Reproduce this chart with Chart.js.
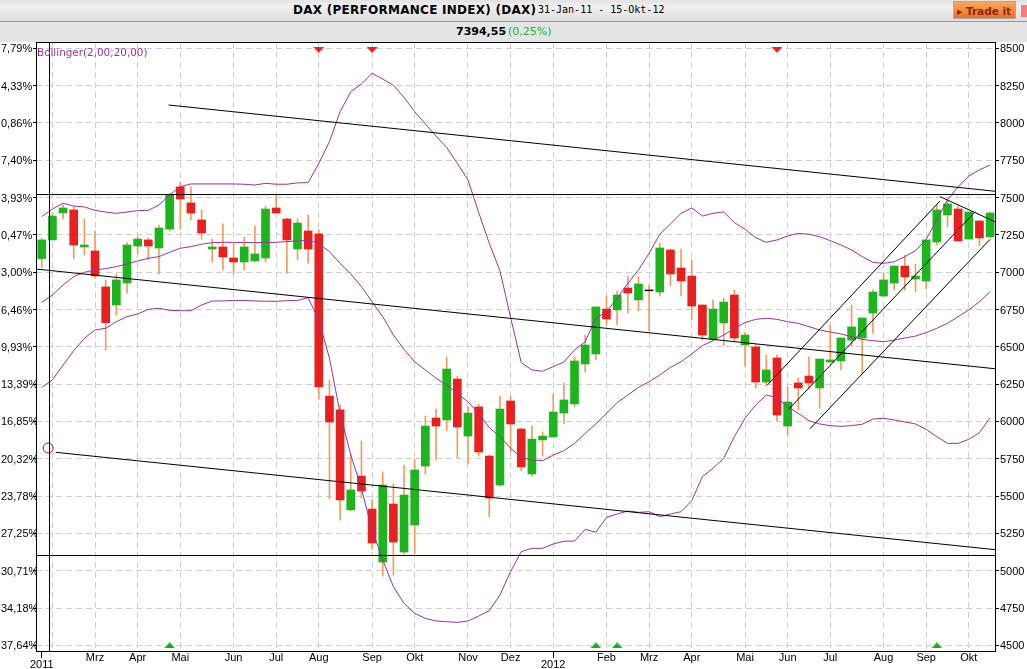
<!DOCTYPE html>
<html>
<head>
<meta charset="utf-8">
<title>DAX</title>
<script src="https://cdn.jsdelivr.net/npm/chart.js@4"></script>
<style>
    html, body { margin: 0; padding: 0; background: #fff; overflow: hidden; }
    #page { position: relative; width: 1027px; height: 669px; overflow: hidden; }
    #titleBar { position: absolute; left: 0; top: 0; width: 1027px; height: 21px; background: linear-gradient(#e2e2e2, #f0f0f0 30%, #dedede); border-bottom: 1px solid #999; }
    #quoteBar { position: absolute; left: 0; top: 22px; width: 1027px; height: 20px; background: #e4e4e4; }
    #title { position: absolute; left: 293px; top: 3px; font: bold 12px "DejaVu Sans"; letter-spacing: .27px; white-space: nowrap; }
    #range { position: absolute; left: 538px; top: 4px; font: 10px "DejaVu Sans Mono"; white-space: nowrap; }
    #last { position: absolute; left: 456px; top: 25px; font: bold 11px "DejaVu Sans"; white-space: nowrap; }
    #change { position: absolute; left: 508px; top: 25px; font: 11px "DejaVu Sans"; color: #22b422; white-space: nowrap; }
    #trade { position: absolute; left: 953px; top: 1px; width: 63px; height: 18px; border: 1px solid #aaa; background: linear-gradient(#f9a860, #ee6f22); color: #8a2a08; font: bold 10.5px "DejaVu Sans"; line-height: 18px; box-sizing: border-box; padding-left: 3px; white-space: nowrap; }
    #closeBox { position: absolute; left: 1021px; top: 5px; width: 6px; height: 12px; background: #f08080; }
    #bollinger { position: absolute; left: 37px; top: 46px; font: 10.4px "DejaVu Sans"; color: #993399; white-space: nowrap; z-index: 3; }
    #chart { position: absolute; left: 0; top: 0; z-index: 2; }
</style>
</head>
<body>
<div id="page">
    <div id="titleBar"></div>
    <div id="quoteBar"></div>
    <div id="title">DAX (PERFORMANCE INDEX) (DAX)</div>
    <div id="range">31-Jan-11 - 15-Okt-12</div>
    <div id="last">7394,55</div>
    <div id="change">(0,25%)</div>
    <div id="trade">▸ Trade it</div>
    <div id="closeBox"></div>
    <canvas id="chart" width="1027" height="669"></canvas>
    <div id="bollinger">Bollinger(2,00;20,00)</div>
</div>
<script>
// weekly candles, 31-Jan-11 to 15-Okt-12
const opens = [
    7091,7216,7397,7417,7169,7142,6901,6780,6927,7175,
    7216,7162,7289,7571,7464,7350,7155,7169,7095,7068,
    7075,7095,7430,7356,7155,7276,7256,6170,6077,5407,
    5634,5413,5058,5447,5125,5306,5701,6023,6010,6284,
    5902,6097,5768,5574,6137,5949,5648,5876,5896,6056,
    6117,6385,6452,6753,6747,6894,6814,6881,6867,7149,
    7028,6974,6780,6552,6660,6847,6512,6499,6264,6425,
    5969,6258,6304,6224,6398,6405,6545,6559,6726,6840,
    6927,7041,6954,6941,7202,7383,7423,7222,7343,7236
];
const highs = [
    7227,7394,7450,7439,7356,7276,6948,6988,7198,7242,
    7229,7316,7524,7604,7571,7417,7222,7323,7189,7236,
    7309,7443,7524,7363,7356,7383,7283,6278,6110,5782,
    5869,5474,5661,5581,5708,5748,6036,6083,6432,6304,
    6097,6117,5775,6170,6170,5956,5969,5929,6184,6257,
    6432,6579,6767,6840,6874,6974,6968,6914,7196,7155,
    7155,7082,6780,6814,6827,6881,6595,6519,6445,6445,
    6231,6291,6432,6418,6646,6559,6780,6693,6881,6994,
    7041,7115,7055,7216,7450,7477,7443,7403,7343,7403
];
const lows = [
    7030,7216,7356,7091,7115,6959,6479,6713,6860,7122,
    7082,6988,7276,7289,7350,7222,7068,7015,6988,7015,
    7068,7068,7394,6994,7082,7061,6150,5480,5340,5400,
    5487,5145,4964,4971,5112,5116,5648,5742,5936,5755,
    5715,5768,5360,5567,5795,5668,5634,5768,5896,5983,
    6097,6331,6412,6646,6646,6726,6740,6606,6840,6907,
    6840,6680,6545,6545,6505,6539,6371,6224,6237,6003,
    5909,6077,6217,6090,6398,6345,6505,6318,6592,6840,
    6881,6881,6867,6887,7182,7303,7209,7222,7175,7236
];
const closes = [
    7216,7376,7430,7182,7182,6975,6662,6948,7182,7222,
    7175,7296,7517,7490,7396,7262,7169,7102,7068,7169,
    7122,7423,7396,7216,7329,7155,6231,5996,5474,5541,
    5534,5186,5574,5192,5507,5675,5969,5969,6351,5963,
    6056,5795,5487,6083,5983,5695,5882,5902,6063,6144,
    6405,6512,6767,6686,6847,6860,6921,6875,7162,6988,
    6941,6773,6579,6753,6800,6559,6579,6264,6345,6043,
    6130,6224,6258,6418,6412,6559,6633,6693,6867,6948,
    7041,6968,6974,7216,7417,7457,7209,7403,7229,7396
];

// Bollinger(2,00;20,00)
const bollUpper = [
    7372,7423,7461,7443,7437,7414,7403,7394,7403,7412,
    7414,7450,7517,7573,7591,7591,7591,7591,7591,7589,
    7584,7595,7589,7589,7598,7600,7729,7874,8075,8209,
    8261,8332,8294,8252,8171,8075,7993,7912,7836,7729,
    7618,7401,7193,7010,6697,6394,6345,6336,6367,6398,
    6479,6534,6691,6735,6825,6925,7015,7126,7254,7323,
    7394,7430,7376,7394,7403,7332,7287,7231,7200,7216,
    7242,7260,7254,7238,7211,7182,7149,7104,7066,7059,
    7070,7104,7144,7220,7350,7484,7573,7644,7685,7718
];
const bollMiddle = [
    6798,6847,6914,6970,6999,7015,7024,7037,7055,7075,
    7093,7104,7133,7160,7171,7187,7198,7200,7200,7198,
    7198,7200,7200,7205,7209,7213,7193,7137,7059,6988,
    6903,6802,6702,6579,6483,6400,6345,6289,6244,6188,
    6132,6054,5958,5898,5820,5759,5742,5737,5775,5804,
    5853,5920,5983,6054,6126,6177,6228,6266,6311,6362,
    6400,6452,6508,6541,6579,6624,6662,6684,6691,6684,
    6668,6657,6635,6613,6599,6586,6568,6550,6541,6534,
    6545,6559,6572,6595,6624,6657,6702,6747,6802,6869
];
const bollLower = [
    6228,6278,6378,6474,6557,6613,6624,6668,6702,6720,
    6751,6758,6744,6742,6742,6780,6807,6807,6811,6811,
    6807,6805,6805,6809,6811,6829,6680,6423,6054,5775,
    5552,5273,5072,4893,4781,4714,4681,4663,4658,4654,
    4663,4696,4732,4837,4994,5128,5150,5150,5179,5197,
    5199,5277,5257,5357,5380,5400,5391,5395,5362,5380,
    5395,5469,5630,5686,5753,5898,6021,6110,6177,6159,
    6099,6054,6005,5983,5972,5967,5972,5981,6016,6021,
    6010,5996,5983,5947,5898,5853,5853,5880,5925,6025
];

// axes
const xMin = -0.54, xMax = 89.46;
const yMin = 4462, yMax = 8542;
const priceTicks = [8500,8250,8000,7750,7500,7250,7000,6750,6500,6250,6000,5750,5500,5250,5000,4750,4500];
const percentLabels = ['7,79%','4,33%','0,86%','7,40%','3,93%','0,47%','3,00%','6,46%','9,93%','13,39%','16,85%','20,32%','23,78%','27,25%','30,71%','34,18%','37,64%'];
const monthWeeks = [0,1,5,9,13,18,22,26,31,35,40,44,48,53,57,61,66,70,74,79,83,87];
const monthLabels = [['','2011'],'','Mrz','Apr','Mai','Jun','Jul','Aug','Sep','Okt','Nov','Dez',['','2012'],'Feb','Mrz','Apr','Mai','Jun','Jul','Aug','Sep','Okt'];
const yearWeeks = [0,48];

// drawn lines, each as week / price ends
const channelTop = [[11.9,8120],[xMax,7542]];
const channelMid = [[xMin,7021],[xMax,6353]];
const channelLow = [[1.33,5793],[xMax,5141]];
const levelHigh = [[xMin,7520],[xMax,7520]];
const levelLow = [[xMin,5102],[xMax,5102]];
const riseUpper = [[68.1,6244],[84.3,7477]];
const riseMiddle = [[70.1,6081],[87.6,7405]];
const riseLower = [[72.1,5951],[89.0,7220]];
const fallShort = [[84.3,7506],[xMax,7338]];
const cursorLine = [[0.73,yMin],[0.73,yMax]];
const cursorRing = [[0.6,5822]];

// signal markers
const sellWeeks = [26,31,69];
const buyWeeks = [12,52,54,84];
const sellLevel = 8489, buyLevel = 4500;

function flatTriangle(color, down) {
    const c = document.createElement('canvas');
    c.width = 11;
    c.height = 6;
    const g = c.getContext('2d');
    g.fillStyle = color;
    g.beginPath();
    if (down) {
        g.moveTo(0, 0); g.lineTo(11, 0); g.lineTo(5.5, 6);
    } else {
        g.moveTo(0, 6); g.lineTo(11, 6); g.lineTo(5.5, 0);
    }
    g.closePath();
    g.fill();
    return c;
}

function candleColor(i) {
    if (Math.abs(opens[i] - closes[i]) < 8) return '#000000';
    return closes[i] > opens[i] ? '#1eb41e' : '#e82020';
}

function bandSet(values) {
    return {
        type: 'line', order: 2, data: values.map((v, i) => ({ x: i, y: v })),
        borderColor: '#993399', borderWidth: 1, pointRadius: 0, tension: 0
    };
}

function drawnLine(ends) {
    return {
        type: 'line', order: 1, data: ends.map(p => ({ x: p[0], y: p[1] })),
        borderColor: '#000000', borderWidth: 1, pointRadius: 0, tension: 0
    };
}

function markerSet(weeks, level, image) {
    return {
        type: 'line', order: 1, showLine: false, data: weeks.map(w => ({ x: w, y: level })),
        pointStyle: image, pointRadius: 6
    };
}

const axisFont = { family: 'Liberation Sans', size: 11 };

// draws the black box round the plot
const plotFrame = {
    id: 'plotFrame',
    afterDatasetsDraw(chart) {
        const a = chart.chartArea, ctx = chart.ctx;
        ctx.save();
        ctx.strokeStyle = '#000';
        ctx.lineWidth = 1;
        ctx.strokeRect(a.left + 0.5, a.top + 0.5, a.right - a.left, a.bottom - a.top);
        ctx.restore();
    }
};

new Chart(document.getElementById('chart').getContext('2d'), {
    type: 'bar',
    data: {
        datasets: [
            {
                order: 5, grouped: false, barThickness: 1, backgroundColor: '#f79a5a',
                data: highs.map((h, i) => ({ x: i, y: [lows[i], h] }))
            },
            {
                order: 4, grouped: false, barThickness: 8, backgroundColor: opens.map((o, i) => candleColor(i)),
                data: opens.map((o, i) => ({ x: i, y: [o, closes[i]] }))
            },
            bandSet(bollUpper),
            bandSet(bollMiddle),
            bandSet(bollLower),
            drawnLine(channelTop),
            drawnLine(channelMid),
            drawnLine(channelLow),
            drawnLine(levelHigh),
            drawnLine(levelLow),
            drawnLine(riseUpper),
            drawnLine(riseMiddle),
            drawnLine(riseLower),
            drawnLine(fallShort),
            drawnLine(cursorLine),
            {
                type: 'line', order: 1, showLine: false, data: cursorRing.map(p => ({ x: p[0], y: p[1] })),
                pointStyle: 'circle', pointRadius: 5, borderWidth: 1, borderColor: '#e00000', backgroundColor: 'rgba(0,0,0,0)'
            },
            markerSet(sellWeeks, sellLevel, flatTriangle('#e82020', true)),
            markerSet(buyWeeks, buyLevel, flatTriangle('#1eaa1e', false))
        ]
    },
    options: {
        responsive: false,
        animation: false,
        devicePixelRatio: 1,
        events: [],
        layout: { padding: { left: 1, top: 42, right: 0, bottom: 0 } },
        plugins: { legend: { display: false }, tooltip: { enabled: false }, title: { display: false } },
        scales: {
            x: {
                type: 'linear',
                min: xMin,
                max: xMax,
                offset: false,
                afterBuildTicks(s) { s.ticks = monthWeeks.map(v => ({ value: v })); },
                afterFit(s) { s.height = 18; },
                border: { display: false, dash: [6, 4] },
                grid: {
                    offset: false,
                    color: c => (c.tick && c.tick.value === 0 ? 'rgba(0,0,0,0)' : '#cfcfcf'),
                    tickColor: c => (c.tick && yearWeeks.includes(c.tick.value) ? '#000' : 'rgba(0,0,0,0)'),
                    tickLength: 7
                },
                ticks: {
                    autoSkip: false,
                    maxRotation: 0,
                    padding: -3.5,
                    color: '#000',
                    font: Object.assign({ lineHeight: '7px' }, axisFont),
                    callback: v => monthLabels[monthWeeks.indexOf(v)]
                }
            },
            y: {
                position: 'right',
                min: yMin,
                max: yMax,
                afterBuildTicks(s) { s.ticks = priceTicks.map(v => ({ value: v })); },
                afterFit(s) { s.width = 32; },
                border: { display: false, dash: [6, 4] },
                grid: { color: '#cfcfcf', tickColor: '#000', tickLength: 4 },
                ticks: { padding: 1, labelOffset: 1, color: '#000', font: axisFont, callback: v => String(v) }
            },
            yLeft: {
                position: 'left',
                min: yMin,
                max: yMax,
                afterBuildTicks(s) { s.ticks = priceTicks.map(v => ({ value: v })); },
                afterFit(s) { s.width = 35; },
                border: { display: false },
                grid: { drawOnChartArea: false, tickColor: '#000', tickLength: 3 },
                ticks: {
                    crossAlign: 'far',
                    padding: 0,
                    labelOffset: 1,
                    color: '#000',
                    font: axisFont,
                    callback: v => percentLabels[priceTicks.indexOf(v)]
                }
            }
        }
    },
    plugins: [plotFrame]
});
</script>
</body>
</html>
